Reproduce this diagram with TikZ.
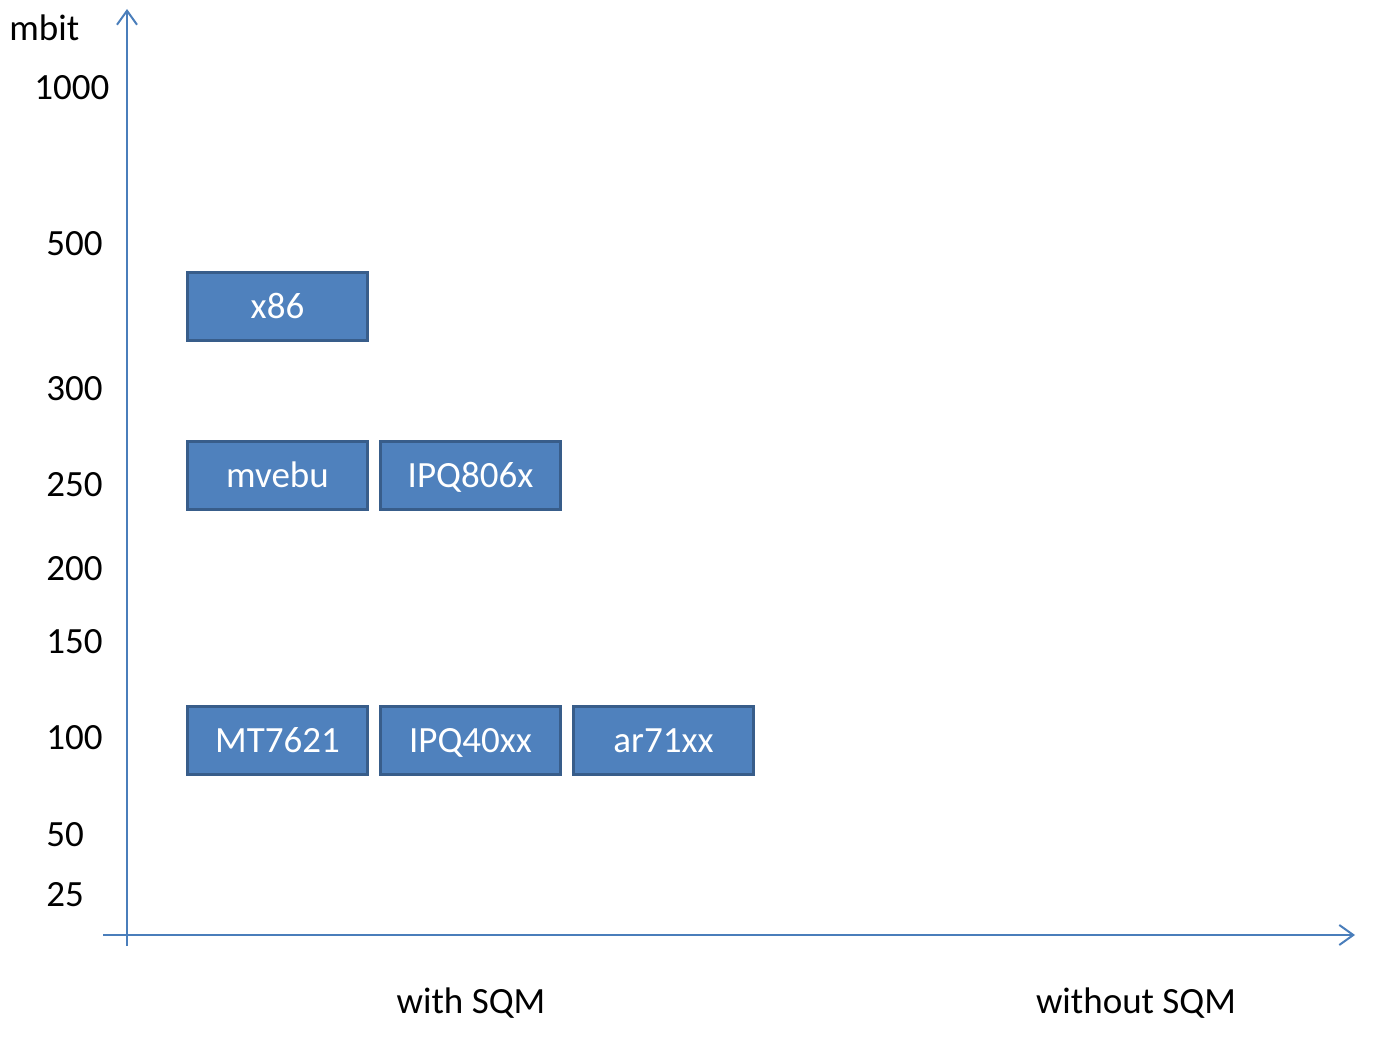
\documentclass[tikz,border=0pt]{standalone}
\usepackage{fontspec}
\setmainfont{Carlito}
\usetikzlibrary{positioning,arrows.meta}
\definecolor{axisblue}{HTML}{4A7EBB}
\definecolor{boxfill}{HTML}{4F81BD}
\definecolor{boxline}{HTML}{385D8A}
\begin{document}
\begin{tikzpicture}[x=0.5pt, y=-0.5pt,
    arch/.style = {draw=boxline, fill=boxfill, line width=1.7pt, minimum width=89.8pt,
      minimum height=33.8pt, inner sep=0pt, text height=11.9pt, text depth=0pt,
      text=white, font=\fontsize{18.5}{20}\selectfont},
    tick/.style = {anchor=west, inner sep=0pt, font=\fontsize{18.5}{20}\selectfont},
    axis/.style = {draw=axisblue, line width=1pt, -{Straight Barb[length=7pt,width=10pt]}},
    node distance=5pt]
        \useasboundingbox (0,0) rectangle (1380,1038);
        % axes
        \coordinate (ybot) at (127,946);
        \coordinate (ytop) at (127,9);
        \coordinate (xleft) at (103,935);
        \coordinate (xright) at (1355,935);
        \draw[axis] (ybot) -- (ytop);
        \draw[axis] (xleft) -- (xright);
        %
        \node[tick] (mbit) at (9,28) {mbit};
        \node[tick] (t1000) at (34,88) {1000};
        \foreach \val/\ypos in {500/244, 300/389, 250/485, 200/569, 150/642, 100/738, 50/835, 25/895}
          \node[tick] (t\val) at (46,\ypos) {\val};
        %
        \node[arch] (x86) at (277.5,306.5) {x86};
        \node[arch] (mvebu) at (277.5,475.5) {mvebu};
        \node[arch] (ipq806x) [right=of mvebu] {IPQ806x};
        \node[arch] (mt7621) at (277.5,740.5) {MT7621};
        \node[arch] (ipq40xx) [right=of mt7621] {IPQ40xx};
        \node[arch] (ar71xx) [right=of ipq40xx] {ar71xx};
        %
        \node[tick, anchor=center] (withsqm) at (471,1003) {with SQM};
        \node[tick, anchor=center] (withoutsqm) at (1136,1003) {without SQM};
      \end{tikzpicture}
\end{document}
